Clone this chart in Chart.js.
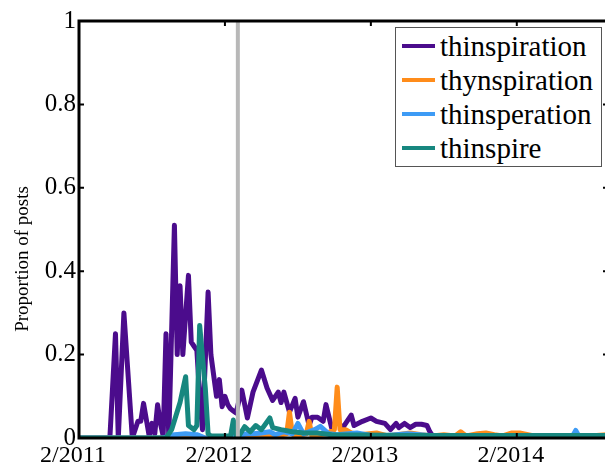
<!DOCTYPE html>
<html>
<head>
<meta charset="utf-8">
<script src="https://cdn.jsdelivr.net/npm/chart.js@4.4.1/dist/chart.umd.min.js"></script>
<style>
    html, body { margin: 0; padding: 0; background: #fff; overflow: hidden; }
    #wrap { position: relative; width: 612px; height: 471px; }
    #legend {
        position: absolute; left: 395px; top: 27px; width: 205px; height: 137px;
        border: 1px solid #555; background: #fff; padding-top: 1px;
        font-family: "Liberation Serif", "DejaVu Serif", serif; font-size: 29px; color: #000;
    }
    #legend .row { display: flex; align-items: center; height: 34px; line-height: 34px; }
    #legend .swatch { width: 33px; height: 4px; margin-left: 6px; margin-right: 5px; }
</style>
</head>
<body>
<div id="wrap">
    <canvas id="chart" width="612" height="471"></canvas>
    <div id="legend"></div>
</div>
<script>
// Weeks counted from 2/2011
const xTicks = [0, 52, 104, 156];
const xTickLabels = ['2/2011', '2/2012', '2/2013', '2/2014'];
const yTicks = [0, 0.2, 0.4, 0.6, 0.8, 1];
const lastWeek = 188.5;
const banWeek = 56.6;

const thinspirationWeeks = [0, 11, 13, 14, 16, 19, 21, 22, 23, 25, 26, 27, 28, 29, 30, 31, 32, 34, 35, 36, 37, 39, 40, 41, 42, 43, 44, 46, 47, 49, 50, 51, 52, 53, 54, 55, 56,
    57, 58, 60, 62, 65, 67, 69, 71, 72, 73, 75, 77, 78, 80, 82, 83, 85, 87, 88, 90, 92, 94, 97, 98, 101, 104, 106, 109, 111, 113, 114, 116, 118, 120, 122, 124, 125, 126];
const thinspirationValues = [0, 0, 0.25, 0, 0.30, 0, 0.04, 0.04, 0.083, 0.005, 0.035, 0.01, 0.08, 0.035, 0.005, 0.25, 0, 0.51, 0.2, 0.365, 0.2, 0.39, 0.23, 0.22, 0.21, 0.1, 0.02, 0.35, 0.2, 0.1, 0.14, 0.075, 0.1, 0.08, 0.07, 0.065, 0.06,
    0.09, 0.115, 0.048, 0.11, 0.163, 0.12, 0.09, 0.11, 0.085, 0.11, 0.062, 0.095, 0.05, 0.087, 0.03, 0.05, 0.05, 0.04, 0.08, 0.025, 0.038, 0.025, 0.055, 0.03, 0.04, 0.048, 0.04, 0.035, 0.02, 0.035, 0.025, 0.035, 0.025, 0.033, 0.033, 0.03, 0.015, 0.005];

const thynspirationWeeks = [0, 60, 62, 70, 74, 75, 76, 77, 81, 82, 83, 88, 91, 92, 93, 95, 97, 100, 106, 110, 118, 122, 126, 130, 134, 136, 138, 142, 145, 148, 151, 154, 157, 160, 163, 170, 176, 182, 188];
const thynspirationValues = [0, 0, 0.008, 0.005, 0.01, 0.062, 0.01, 0.005, 0.01, 0.04, 0.005, 0.01, 0.02, 0.122, 0.02, 0.02, 0.012, 0.008, 0.012, 0.005, 0.012, 0.008, 0.005, 0.008, 0.005, 0.015, 0.005, 0.01, 0.012, 0.008, 0.005, 0.012, 0.012, 0.008, 0.004, 0.005, 0.006, 0.005, 0.008];

const thinsperationWeeks = [0, 30, 34, 38, 42, 45, 55, 60, 62, 65, 68, 70, 73, 76, 78, 80, 84, 86, 89, 92, 99, 104, 108, 117, 125, 135, 140, 150, 158, 166, 176, 177, 178, 188];
const thinsperationValues = [0, 0, 0.008, 0.01, 0.008, 0, 0.004, 0.01, 0.01, 0.012, 0.015, 0.008, 0.015, 0.01, 0.035, 0.01, 0.02, 0.028, 0.01, 0.008, 0.012, 0.006, 0.005, 0.01, 0.006, 0.005, 0.004, 0.004, 0.006, 0.006, 0.006, 0.018, 0.006, 0.006];

const thinspireWeeks = [0, 31, 32, 33, 36, 38, 39, 41, 42, 43, 45, 46, 47, 52, 54, 55, 56, 57, 59, 61, 63, 65, 68, 69, 72, 76, 80, 85, 90, 100, 120, 188];
const thinspireValues = [0, 0, 0.01, 0.02, 0.085, 0.147, 0.03, 0.02, 0.03, 0.27, 0.12, 0.01, 0.005, 0.005, 0.005, 0.043, 0.005, 0.005, 0.027, 0.015, 0.03, 0.02, 0.048, 0.025, 0.02, 0.015, 0.012, 0.012, 0.008, 0.007, 0.006, 0.006];

function toPoints(weeks, values) {
    return weeks.map((w, i) => ({ x: w, y: values[i] }));
}

const serif = '"Liberation Serif", "DejaVu Serif", serif';

// Matlab style box with inward ticks, ban marker and y label
const framePlugin = {
    id: 'frame',
    afterDatasetsDraw(chart) {
        const { ctx, chartArea: a, scales } = chart;
        ctx.save();
        // grey marker line
        const bx = scales.x.getPixelForValue(banWeek);
        ctx.strokeStyle = '#b8b8b8';
        ctx.lineWidth = 4;
        ctx.beginPath();
        ctx.moveTo(bx, a.top);
        ctx.lineTo(bx, a.bottom);
        ctx.stroke();

        ctx.strokeStyle = '#000';
        ctx.lineWidth = 2;
        ctx.beginPath();
        xTicks.forEach(t => {
            const px = scales.x.getPixelForValue(t);
            ctx.moveTo(px, a.bottom); ctx.lineTo(px, a.bottom - 5);
            ctx.moveTo(px, a.top); ctx.lineTo(px, a.top + 5);
        });
        yTicks.forEach(t => {
            const py = scales.y.getPixelForValue(t);
            ctx.moveTo(a.left, py); ctx.lineTo(a.left + 5, py);
            ctx.moveTo(a.right, py); ctx.lineTo(a.right - 5, py);
        });
        ctx.stroke();

        ctx.lineWidth = 3;
        ctx.strokeRect(a.left, a.top, a.right - a.left, a.bottom - a.top);

        ctx.fillStyle = '#000';
        ctx.font = '19px ' + serif;
        ctx.textAlign = 'center';
        ctx.textBaseline = 'middle';
        ctx.translate(23, 259);
        ctx.rotate(-Math.PI / 2);
        ctx.fillText('Proportion of posts', 0, 0);
        ctx.restore();
    }
};

const chart = new Chart(document.getElementById('chart'), {
    type: 'line',
    data: {
        datasets: [
            { label: 'thinspiration', data: toPoints(thinspirationWeeks, thinspirationValues), borderColor: '#4b0c8c', order: 4 },
            { label: 'thynspiration', data: toPoints(thynspirationWeeks, thynspirationValues), borderColor: '#ff8c1a', order: 3 },
            { label: 'thinsperation', data: toPoints(thinsperationWeeks, thinsperationValues), borderColor: '#3d9bf5', order: 2 },
            { label: 'thinspire', data: toPoints(thinspireWeeks, thinspireValues), borderColor: '#17877f', order: 1 }
        ]
    },
    options: {
        responsive: false,
        animation: false,
        elements: {
            line: { borderWidth: 5, tension: 0, fill: false, borderJoinStyle: 'round' },
            point: { radius: 0, hoverRadius: 0 }
        },
        layout: { padding: { top: 21, right: 4, left: 0, bottom: 0 } },
        plugins: { legend: { display: false }, tooltip: { enabled: false } },
        scales: {
            x: {
                type: 'linear',
                min: 0,
                max: lastWeek,
                grid: { display: false, drawTicks: false },
                border: { display: false },
                afterBuildTicks: scale => { scale.ticks = xTicks.map(v => ({ value: v })); },
                afterFit: scale => { scale.height = 33; },
                ticks: {
                    padding: 3,
                    labelOffset: -6,
                    maxRotation: 0,
                    color: '#000',
                    font: { family: serif, size: 24 },
                    callback: value => xTickLabels[xTicks.indexOf(value)]
                }
            },
            y: {
                min: 0,
                max: 1,
                grid: { display: false, drawTicks: false },
                border: { display: false },
                afterBuildTicks: scale => { scale.ticks = yTicks.map(v => ({ value: v })); },
                afterFit: scale => { scale.width = 79; },
                ticks: {
                    padding: 3,
                    color: '#000',
                    font: { family: serif, size: 25 },
                    callback: value => String(value)
                }
            }
        }
    },
    plugins: [framePlugin]
});

// legend box drawn from the datasets
const legendBox = document.getElementById('legend');
chart.data.datasets.forEach(ds => {
    const row = document.createElement('div');
    row.className = 'row';
    row.innerHTML = `<span class="swatch" style="background:${ds.borderColor}"></span><span>${ds.label}</span>`;
    legendBox.appendChild(row);
});
</script>
</body>
</html>
